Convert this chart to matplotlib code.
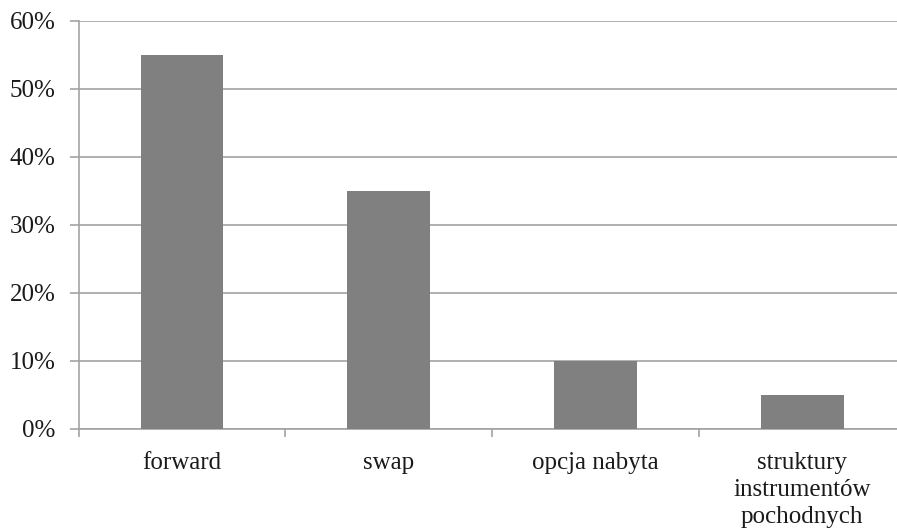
import matplotlib
matplotlib.use("Agg")
import matplotlib.pyplot as plt
from matplotlib.ticker import PercentFormatter

categories = ["forward", "swap", "opcja nabyta", "struktury\ninstrumentów\npochodnych"]
shares = [55, 35, 10, 5]
yticks = [0, 10, 20, 30, 40, 50, 60]

plt.rcParams['font.family'] = ['Liberation Serif', 'DejaVu Serif']
line_col = "#a3a3a3"
bar_col = "#808080"
fs = 18

fig = plt.figure(figsize=(8.97, 5.30), dpi=100)
ax = fig.add_axes([0.0877, 0.191, 0.922, 0.770])

x = range(len(categories))
ax.bar(x, shares, width=0.4, color=bar_col, zorder=3)

ax.set_xlim(-0.5, len(categories) - 0.5)
ax.set_ylim(0, 60)
ax.set_yticks(yticks)
ax.yaxis.set_major_formatter(PercentFormatter(decimals=0))
ax.yaxis.grid(True, color=line_col, linewidth=1.2, zorder=0)

# boundaries between categories get the tick marks, centres get the labels
ax.set_xticks([i - 0.5 for i in range(len(categories) + 1)])
ax.set_xticklabels([])
ax.set_xticks(list(x), minor=True)
ax.set_xticklabels(categories, minor=True, fontsize=fs, linespacing=1.27)
ax.tick_params(axis="x", which="major", length=6, width=1.2, color=line_col, direction="out")
ax.tick_params(axis="x", which="minor", length=0, pad=17, labelcolor="#1a1a1a")
ax.tick_params(axis="y", length=6.5, width=1.2, color=line_col, pad=10,
               labelsize=fs, labelcolor="#1a1a1a")

for side in ("top", "right"):
    ax.spines[side].set_visible(False)
for side in ("left", "bottom"):
    ax.spines[side].set_color(line_col)
    ax.spines[side].set_linewidth(1.2)

fig.savefig("out.png", dpi=100)
